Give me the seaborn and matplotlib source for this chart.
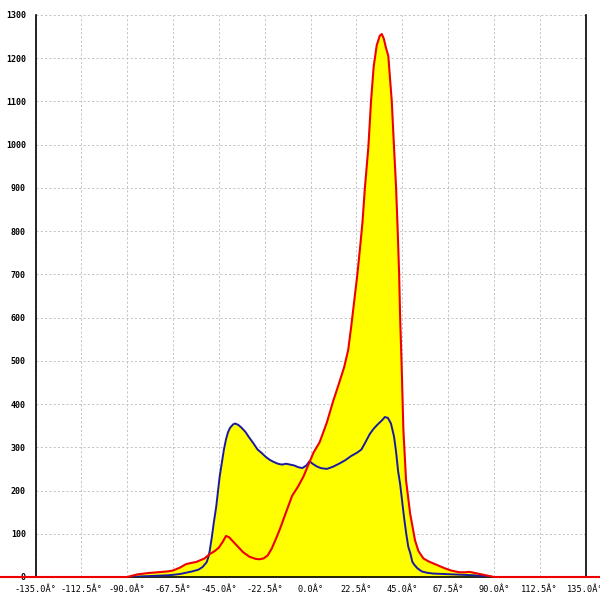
import matplotlib
matplotlib.use('Agg')
import matplotlib.pyplot as plt
import seaborn as sns
import pandas as pd

# red series (angle, value)
red_x = [-180, -90, -85, -80, -75, -70, -67.5, -64, -61, -56, -52, -49.5, -47, -45, -43, -41.5,
         -40, -38, -36, -33, -30, -27, -25, -23, -21, -19, -17, -15, -12, -9, -6, -3.5, -1,
         1.5, 4.5, 8, 11, 14, 16.5, 18.5, 20, 21.5, 23, 24.5, 25.5, 26.7, 28.4, 29.7, 31,
         32.5, 34, 35, 36, 37, 38.2, 39.9, 41, 42, 42.8, 43.5, 44, 44.8, 45.6, 46.9, 48.9,
         51.3, 53, 55.4, 58, 62, 66, 69, 73, 76, 78, 80, 83, 87, 90, 180]
red_y = [0, 0, 6, 9, 11, 13, 15, 22, 30, 35, 43, 53, 60, 68, 82, 95,
         92, 82, 72, 57, 47, 42, 41, 43, 50, 66, 88, 111, 150, 188, 210, 232, 260,
         288, 312, 357, 405, 448, 485, 525, 580, 640, 700, 770, 820, 900, 994, 1100, 1180,
         1230, 1252, 1256, 1245, 1225, 1205, 1100, 994, 902, 802, 702, 602, 480, 340, 224, 147,
         85, 60, 43, 36, 28, 20, 15, 11, 11, 12, 10, 7, 3, 0, 0]

# blue series (angle, value)
blue_x = [-90, -85, -80, -75, -70, -67.5, -64, -61, -58, -55, -53, -51, -50, -49.5, -48.5, -47.5,
          -46.3, -45.5, -44.6, -43.5, -42.5, -41.5, -40.5, -39.5, -38, -37, -35.5, -34, -32, -30,
          -28, -26, -24, -22, -20, -18, -16, -14, -12, -10, -8, -6, -4, -2, -0.5, 1, 3, 5, 8,
          11, 14, 17, 20, 23, 25, 27, 29, 31, 33, 35, 36.5, 38, 39.5, 41, 42, 43, 44, 45, 46,
          47, 48, 49, 50, 51, 52.5, 54.6, 57, 60, 65, 70, 75, 80, 85, 90]
blue_y = [0, 1, 2, 3, 4, 5, 7, 10, 13, 17, 23, 34, 48, 60, 90, 125,
          162, 195, 232, 265, 295, 318, 335, 345, 353, 355, 352, 346, 336, 322,
          309, 295, 287, 278, 271, 266, 262, 260, 262, 260, 258, 254, 252, 258, 268, 262, 256, 252, 250,
          255, 262, 270, 280, 288, 295, 312, 330, 343, 353, 362, 370, 368, 355, 325, 290, 245, 215, 175, 135,
          100, 70, 55, 35, 28, 20, 13, 10, 8, 7, 6, 5, 4, 2, 0]

x_ticks = [-135, -112.5, -90, -67.5, -45, -22.5, 0, 22.5, 45, 67.5, 90, 112.5, 135]
y_ticks = list(range(0, 1400, 100))

red_df = pd.DataFrame({'angle': red_x, 'value': red_y})
blue_df = pd.DataFrame({'angle': blue_x, 'value': blue_y})

sns.set_style('white')
plt.rcParams['font.family'] = ['DejaVu Sans Mono', 'DejaVu Sans']

fig = plt.figure(figsize=(6, 6), dpi=100)
ax = fig.add_axes([35.5 / 600, 23 / 600, 550 / 600, 562 / 600])

# yellow area under both curves
ax.fill_between(red_df['angle'], red_df['value'], color='#ffff00', lw=0, zorder=1)
ax.fill_between(blue_df['angle'], blue_df['value'], color='#ffff00', lw=0, zorder=1)

sns.lineplot(data=blue_df, x='angle', y='value', color='#1a1aa0', lw=1.4, ax=ax, zorder=3)
sns.lineplot(data=red_df, x='angle', y='value', color='#ee0000', lw=1.5, ax=ax, zorder=4)
ax.lines[-1].set_clip_on(False)

ax.set_xlim(-135, 135)
ax.set_ylim(0, 1300)
ax.set_xticks(x_ticks)
ax.set_xticklabels(['%.1fÂ°' % t for t in x_ticks])
ax.set_yticks(y_ticks)
ax.set_yticklabels([str(t) for t in y_ticks])
ax.set_xlabel('')
ax.set_ylabel('')

ax.grid(True, color='#c4c4c4', linestyle=(0, (2.2, 2.2)), linewidth=0.7, zorder=0)
ax.set_axisbelow(True)

for side in ['left', 'right', 'bottom']:
    ax.spines[side].set_color('black')
    ax.spines[side].set_linewidth(1.2)
ax.spines['top'].set_visible(False)

ax.tick_params(axis='y', direction='out', length=4, width=1, colors='black', pad=3, labelsize=6)
ax.tick_params(axis='x', direction='inout', length=7, width=1, colors='black', pad=2, labelsize=6.2)
for lab in ax.get_yticklabels():
    lab.set_fontweight('bold')

fig.savefig('out.png', dpi=100)
